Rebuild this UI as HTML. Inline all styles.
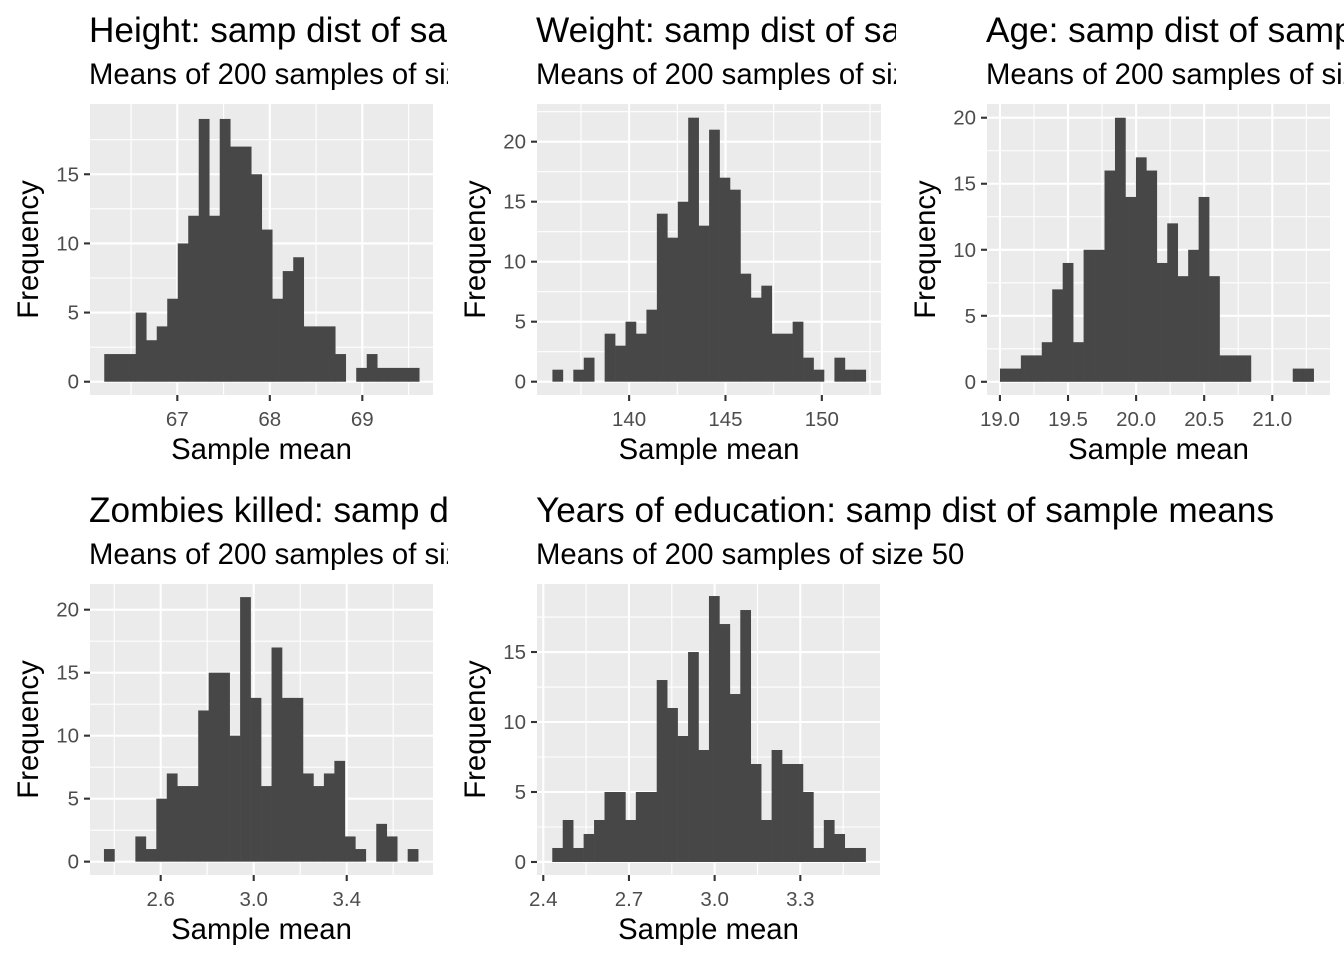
<!DOCTYPE html>
<html><head><meta charset="utf-8">
<style>
html,body{margin:0;padding:0;background:#fff;}
svg{display:block;font-family:"Liberation Sans",Arial,sans-serif;}
</style></head>
<body>
<svg id="chart" width="1344" height="960" viewBox="0 0 1344 960">
<defs>
<clipPath id="clip-c1"><rect x="0" y="0" width="448" height="960"/></clipPath>
<clipPath id="clip-c2"><rect x="448" y="0" width="448" height="480"/></clipPath>
<clipPath id="clip-c3"><rect x="896" y="0" width="448" height="480"/></clipPath>
<clipPath id="clip-none"><rect x="0" y="0" width="1344" height="960"/></clipPath>
</defs>
</svg>
<script>
// ---- data ----
const heightCounts = [2,2,2,5,3,4,6,10,12,19,12,19,17,17,15,11,6,8,9,4,4,4,2,0,1,2,1,1,1,1];
const weightCounts = [1,0,1,2,0,4,3,5,4,6,14,12,15,22,13,21,17,16,9,7,8,4,4,5,2,1,0,2,1,1];
const ageCounts = [1,1,2,2,3,7,9,3,10,10,16,20,14,17,16,9,12,8,10,14,8,2,2,2,0,0,0,0,1,1];
const zombiesCounts = [1,0,0,2,1,5,7,6,6,12,15,15,10,21,13,6,17,13,13,7,6,7,8,2,1,0,3,2,0,1];
const educationCounts = [1,3,1,2,3,5,5,3,5,5,13,11,9,15,8,19,17,12,18,7,3,8,7,7,5,1,3,2,1,1];
const binStarts = [66.21, 136.02, 19.0, 2.356, 2.4315];
const binWidths = [0.1135, 0.542, 0.0768, 0.04504, 0.03657];
const heightXTicks = [67,68,69];
const weightXTicks = [140,145,150];
const ageXTicks = [19.0,19.5,20.0,20.5,21.0];
const zombiesXTicks = [2.6,3.0,3.4];
const educationXTicks = [2.4,2.7,3.0,3.3];
const heightYTicks = [0,5,10,15];
const weightYTicks = [0,5,10,15,20];
const ageYTicks = [0,5,10,15,20];
const zombiesYTicks = [0,5,10,15,20];
const educationYTicks = [0,5,10,15];
const titles = ["Height: samp dist of sample means","Weight: samp dist of sample means","Age: samp dist of sample means","Zombies killed: samp dist of sample means","Years of education: samp dist of sample means"];

// ---- layout ----
const panels = [
 {key:"height", counts:heightCounts, xt:heightXTicks, yt:heightYTicks, dec:0, L:90, R:433, T:104, B:395, xd:[66.056,69.764], yd:[-0.96,20.08], clip:"clip-c1", ty:42},
 {key:"weight", counts:weightCounts, xt:weightXTicks, yt:weightYTicks, dec:0, L:537, R:881, T:104, B:395, xd:[135.22,153.07], yd:[-1.11,23.14], clip:"clip-c2", ty:42},
 {key:"age", counts:ageCounts, xt:ageXTicks, yt:ageYTicks, dec:1, L:987, R:1330, T:104, B:395, xd:[18.905,21.424], yd:[-1.0,21.04], clip:"clip-c3", ty:42},
 {key:"zombies", counts:zombiesCounts, xt:zombiesXTicks, yt:zombiesYTicks, dec:1, L:90, R:433, T:584, B:875, xd:[2.296,3.771], yd:[-1.06,22.04], clip:"clip-c1", ty:522},
 {key:"education", counts:educationCounts, xt:educationXTicks, yt:educationYTicks, dec:1, L:537, R:880, T:584, B:875, xd:[2.378,3.579], yd:[-0.93,19.86], clip:"clip-none", ty:522}
];
const NS="http://www.w3.org/2000/svg";
const svg=document.getElementById('chart');
function mk(tag, attrs, parent){const e=document.createElementNS(NS,tag);for(const k in attrs)e.setAttribute(k,attrs[k]);parent.appendChild(e);return e;}

panels.forEach((p,i)=>{
  const g=mk('g',{'clip-path':`url(#${p.clip})`},svg);
  
  
  const sx=v=>p.L+(v-p.xd[0])/(p.xd[1]-p.xd[0])*(p.R-p.L);
  const sy=v=>p.B-(v-p.yd[0])/(p.yd[1]-p.yd[0])*(p.B-p.T);
  const t=mk('text',{x:p.L-1,y:p.ty,'font-size':35.2,fill:'#000'},g);
  t.textContent=titles[i];
  
  
  const st=mk('text',{x:p.L-1,y:p.ty+42,'font-size':29.3,fill:'#000'},g);
  st.textContent="Means of 200 samples of size 50";
  
  
  const bg=mk('rect',{x:p.L,y:p.T,width:p.R-p.L,height:p.B-p.T,fill:'#ebebeb'},g);
  
  
  const xs=p.xt[1]-p.xt[0], ys=p.yt[1]-p.yt[0];
  for(let v=p.xt[0]-xs*1.5; v<=p.xd[1]; v+=xs){ if(v<p.xd[0])continue; const x=sx(v); mk('line',{x1:x,x2:x,y1:p.T,y2:p.B,stroke:'#fff','stroke-width':1.1},g); }
  for(let v=p.yt[0]-ys*0.5; v<=p.yd[1]; v+=ys){ if(v<p.yd[0])continue; const y=sy(v); mk('line',{x1:p.L,x2:p.R,y1:y,y2:y,stroke:'#fff','stroke-width':1.1},g); }
  p.xt.forEach(v=>{const x=sx(v); mk('line',{x1:x,x2:x,y1:p.T,y2:p.B,stroke:'#fff','stroke-width':2.1},g);
    mk('line',{x1:x,x2:x,y1:p.B,y2:p.B+6,stroke:'#333','stroke-width':2.1},g);
    const l=mk('text',{x:x,y:p.B+31,'font-size':20.5,fill:'#4d4d4d','text-anchor':'middle'},g); l.textContent=v.toFixed(p.dec);
    
    
  });
  p.yt.forEach(v=>{const y=sy(v); mk('line',{x1:p.L,x2:p.R,y1:y,y2:y,stroke:'#fff','stroke-width':2.1},g);
    mk('line',{x1:p.L-6,x2:p.L,y1:y,y2:y,stroke:'#333','stroke-width':2.1},g);
    const l=mk('text',{x:p.L-11,y:y+7,'font-size':20.5,fill:'#4d4d4d','text-anchor':'end'},g); l.textContent=String(v);
    
    
  });
  p.counts.forEach((c,k)=>{ if(c<=0)return;
    const x0=sx(binStarts[i]+k*binWidths[i]), x1=sx(binStarts[i]+(k+1)*binWidths[i]);
    const r=mk('rect',{x:x0,y:sy(c),width:x1-x0+0.3,height:sy(0)-sy(c),fill:'#474747'},g);
    
    
  });
  const xt=mk('text',{x:(p.L+p.R)/2,y:p.B+64,'font-size':29.3,fill:'#000','text-anchor':'middle'},g);
  xt.textContent="Sample mean";
  
  
  const cy=(p.T+p.B)/2, cx=p.L-52;
  const yt=mk('text',{x:cx,y:cy,'font-size':29.3,fill:'#000','text-anchor':'middle',transform:`rotate(-90 ${cx} ${cy})`},g);
  yt.textContent="Frequency";
  
  
});
</script>
</body></html>
